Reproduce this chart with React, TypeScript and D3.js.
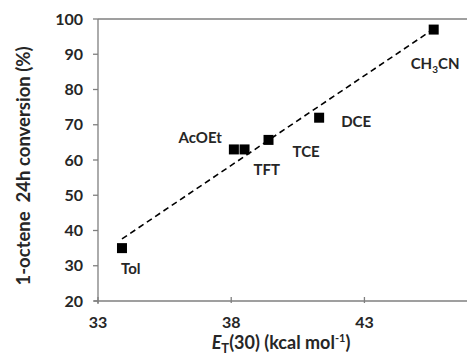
// @ts-nocheck
import { useEffect, useRef } from "react"
import * as d3 from "d3"

const solvents = ["Tol", "AcOEt", "TFT", "TCE", "DCE", "CH3CN"]
const etValues = [33.9, 38.1, 38.5, 39.4, 41.3, 45.6]
const conversion = [35, 63, 63, 65.7, 72, 97]
const xTicks = [33, 38, 43]
const yTicks = [20, 30, 40, 50, 60, 70, 80, 90, 100]

const width = 467
const height = 356
const margin = { top: 19, right: -4, bottom: 55, left: 98 }

// label offsets relative to point: dx, dy (baseline), anchor
const labelOffset = {
  Tol: [-1, 26, "start"],
  AcOEt: [-12, -6, "end"],
  TFT: [9, 26, "start"],
  TCE: [24, 17, "start"],
  DCE: [22, 9, "start"],
  CH3CN: [-23, 39, "start"],
}

export default function App() {
  const svgRef = useRef<SVGSVGElement>(null)

  useEffect(() => {
    if (!svgRef.current) return
    const svg = d3.select(svgRef.current)
    svg.selectAll("*").remove()

    const x = d3.scaleLinear().domain([33, 47]).range([margin.left, width - margin.right])
    const y = d3.scaleLinear().domain([20, 100]).range([height - margin.bottom, margin.top])
    const font = "Lato, 'Open Sans', sans-serif"
    const textColor = "#262626"
    const axisColor = "#7f7f7f"

    // top border
    svg.append("line")
      .attr("x1", x(33)).attr("x2", width)
      .attr("y1", y(100)).attr("y2", y(100))
      .attr("stroke", axisColor).attr("stroke-width", 1.3)

    // y axis
    const yAxis = svg.append("g")
    yAxis.append("line")
      .attr("x1", x(33)).attr("x2", x(33))
      .attr("y1", y(100)).attr("y2", y(20) + 3)
      .attr("stroke", axisColor).attr("stroke-width", 1.3)
    yAxis.selectAll("line.tick").data(yTicks).join("line")
      .attr("class", "tick")
      .attr("x1", x(33) - 5).attr("x2", x(33))
      .attr("y1", (d) => y(d)).attr("y2", (d) => y(d))
      .attr("stroke", axisColor).attr("stroke-width", 1.3)
    yAxis.selectAll("text").data(yTicks).join("text")
      .attr("x", x(33) - 15).attr("y", (d) => y(d))
      .attr("dy", "0.35em")
      .attr("text-anchor", "end")
      .attr("font-family", font).attr("font-weight", "bold").attr("font-size", 16)
      .attr("fill", textColor)
      .text((d) => d)

    // x axis
    const xAxis = svg.append("g")
    xAxis.append("line")
      .attr("x1", x(33) - 4).attr("x2", width)
      .attr("y1", y(20)).attr("y2", y(20))
      .attr("stroke", axisColor).attr("stroke-width", 1.3)
    xAxis.selectAll("line.tick").data(xTicks).join("line")
      .attr("class", "tick")
      .attr("x1", (d) => x(d)).attr("x2", (d) => x(d))
      .attr("y1", y(20) - 4).attr("y2", y(20) + 2)
      .attr("stroke", axisColor).attr("stroke-width", 1.3)
    xAxis.selectAll("text").data(xTicks).join("text")
      .attr("x", (d) => x(d)).attr("y", y(20) + 21)
      .attr("dy", "0.35em")
      .attr("text-anchor", "middle")
      .attr("font-family", font).attr("font-weight", "bold").attr("font-size", 16)
      .attr("fill", textColor)
      .text((d) => d)

    // x title
    const xt = svg.append("text")
      .attr("x", 281).attr("y", 349)
      .attr("text-anchor", "middle")
      .attr("font-family", font).attr("font-weight", "bold").attr("font-size", 18)
      .attr("fill", textColor)
    xt.append("tspan").attr("font-style", "italic").text("E")
    xt.append("tspan").attr("font-size", 13).attr("dy", 4).text("T")
    xt.append("tspan").attr("dy", -4).text("(30) (kcal mol")
    xt.append("tspan").attr("font-size", 11).attr("dy", -7).text("-1")
    xt.append("tspan").attr("dy", 7).text(")")

    // y title
    svg.append("text")
      .attr("transform", `translate(30, ${166}) rotate(-90)`)
      .attr("text-anchor", "middle")
      .attr("font-family", font).attr("font-weight", "bold").attr("font-size", 18.5)
      .attr("fill", textColor)
      .attr("xml:space", "preserve")
      .text("1-octene  24h conversion (%)")

    // linear trendline (least squares)
    const mx = d3.mean(etValues)
    const my = d3.mean(conversion)
    const sxy = d3.sum(etValues, (v, i) => (v - mx) * (conversion[i] - my))
    const sxx = d3.sum(etValues, (v) => (v - mx) ** 2)
    const slope = sxy / sxx
    const icpt = my - slope * mx
    const [x0, x1] = d3.extent(etValues)
    svg.append("path")
      .attr("d", d3.line()([[x(x0), y(icpt + slope * x0)], [x(x1), y(icpt + slope * x1)]]))
      .attr("stroke", "#000").attr("stroke-width", 1.6)
      .attr("stroke-dasharray", "6,4").attr("fill", "none")

    // points
    svg.selectAll("rect.pt").data(etValues).join("rect")
      .attr("class", "pt")
      .attr("x", (d) => x(d) - 5).attr("y", (d, i) => y(conversion[i]) - 5)
      .attr("width", 10).attr("height", 10)
      .attr("fill", "#000")

    // labels
    solvents.forEach((s, i) => {
      const [dx, dy, anchor] = labelOffset[s]
      const t = svg.append("text")
        .attr("x", x(etValues[i]) + dx).attr("y", y(conversion[i]) + dy)
        .attr("text-anchor", anchor)
        .attr("font-family", font).attr("font-weight", "bold").attr("font-size", 15)
        .attr("fill", textColor)
      if (s === "CH3CN") {
        t.append("tspan").text("CH")
        t.append("tspan").attr("font-size", 10).attr("dy", 4).text("3")
        t.append("tspan").attr("dy", -4).text("CN")
      } else {
        t.text(s)
      }
    })
  }, [])

  return <svg ref={svgRef} width={width} height={height} style={{ display: "block", position: "absolute", left: 0, top: 0 }} />
}
